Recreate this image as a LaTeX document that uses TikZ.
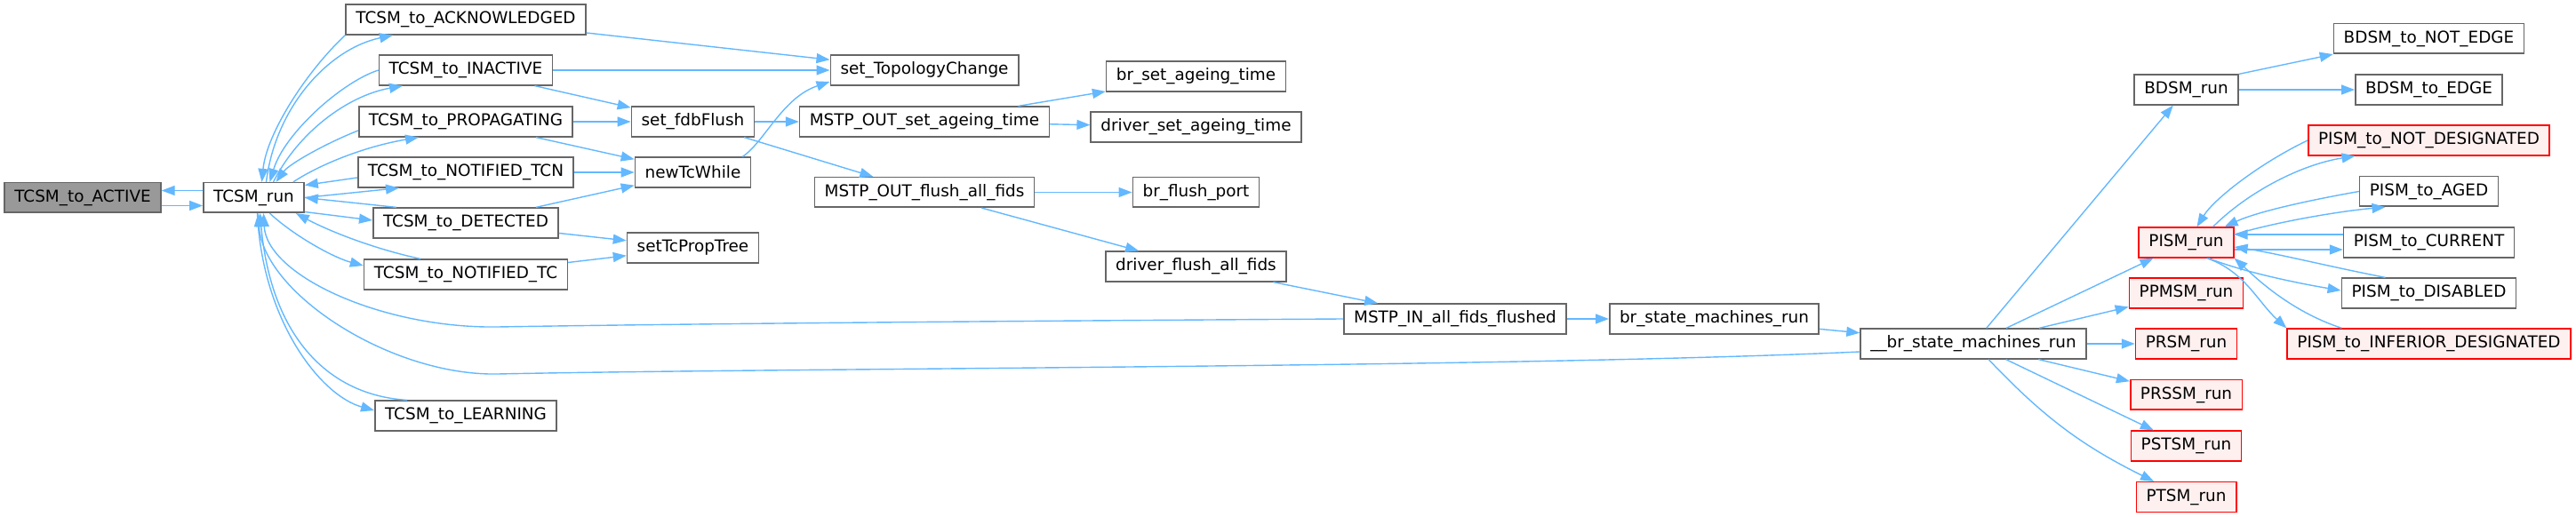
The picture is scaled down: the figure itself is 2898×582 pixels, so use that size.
\documentclass[tikz,border=0pt]{standalone}
\usepackage{fontspec}
\setmainfont{DejaVu Sans}
\usetikzlibrary{arrows.meta, calc}
\definecolor{edgeblue}{HTML}{63B8FF}
\definecolor{boxgray}{HTML}{666666}
\definecolor{rootfill}{HTML}{999999}
\definecolor{cutfill}{HTML}{FFF0F0}

\begin{document}
\begin{tikzpicture}[x=0.5pt, y=-0.5pt,
    fn/.style={draw=boxgray, line width=0.8pt, fill=white, rectangle, inner xsep=5.6pt, inner ysep=0pt,
      minimum height=16.8pt, font=\fontsize{9.2}{11}\selectfont},
    rootfn/.style={fn, fill=rootfill},
    cutfn/.style={fn, draw=red, fill=cutfill},
    call/.style={draw=edgeblue, line width=0.7pt, -{Triangle[length=7.5pt, width=5.5pt]}}]
  \useasboundingbox (0,0) rectangle (2898,582);

  \node[rootfn] (act) at (93,222.5) {TCSM\_to\_ACTIVE};
  \node[fn] (run) at (285.5,222.5) {TCSM\_run};
  \node[fn] (ack) at (524,22) {TCSM\_to\_ACKNOWLEDGED};
  \node[fn] (inact) at (524,79) {TCSM\_to\_INACTIVE};
  \node[fn] (prop) at (524,137) {TCSM\_to\_PROPAGATING};
  \node[fn] (tcn) at (524,194) {TCSM\_to\_NOTIFIED\_TCN};
  \node[fn] (det) at (524,251) {TCSM\_to\_DETECTED};
  \node[fn] (ntc) at (524,309) {TCSM\_to\_NOTIFIED\_TC};
  \node[fn] (learn) at (524,468) {TCSM\_to\_LEARNING};
  \node[fn] (topo) at (1040,79) {set\_TopologyChange};
  \node[fn] (fdb) at (779.5,137) {set\_fdbFlush};
  \node[fn] (newtc) at (779.5,194) {newTcWhile};
  \node[fn] (proptree) at (779.5,279) {setTcPropTree};
  \node[fn] (outage) at (1040,137) {MSTP\_OUT\_set\_ageing\_time};
  \node[fn] (outflush) at (1040,216.5) {MSTP\_OUT\_flush\_all\_fids};
  \node[fn] (brage) at (1345.5,86) {br\_set\_ageing\_time};
  \node[fn] (drvage) at (1345.5,143) {driver\_set\_ageing\_time};
  \node[fn] (brflush) at (1345.5,216.5) {br\_flush\_port};
  \node[fn] (drvflush) at (1345.5,300) {driver\_flush\_all\_fids};
  \node[fn] (allfl) at (1637,359) {MSTP\_IN\_all\_fids\_flushed};
  \node[fn] (brsm) at (1928.5,359) {br\_state\_machines\_run};
  \node[fn] (ubrsm) at (2220,387) {\_\_br\_state\_machines\_run};
  \node[fn] (bdsm) at (2459.5,101) {BDSM\_run};
  \node[cutfn] (pism) at (2459.5,273) {PISM\_run};
  \node[cutfn] (ppmsm) at (2459.5,330) {PPMSM\_run};
  \node[cutfn] (prsm) at (2459.5,387) {PRSM\_run};
  \node[cutfn] (prssm) at (2459.5,444.5) {PRSSM\_run};
  \node[cutfn] (pstsm) at (2459.5,502) {PSTSM\_run};
  \node[cutfn] (ptsm) at (2459.5,559.5) {PTSM\_run};
  \node[fn] (bdne) at (2732.5,43.5) {BDSM\_to\_NOT\_EDGE};
  \node[fn] (bde) at (2732.5,101) {BDSM\_to\_EDGE};
  \node[cutfn] (pnd) at (2732.5,158) {PISM\_to\_NOT\_DESIGNATED};
  \node[fn] (paged) at (2732.5,215.5) {PISM\_to\_AGED};
  \node[fn] (pcur) at (2732.5,273) {PISM\_to\_CURRENT};
  \node[fn] (pdis) at (2732.5,330) {PISM\_to\_DISABLED};
  \node[cutfn] (pinf) at (2732.5,387) {PISM\_to\_INFERIOR\_DESIGNATED};

  \draw[call] ($(run.west)+(0,-8)$) -- ($(act.east)+(0,-8)$);
  \draw[call] ($(act.east)+(0,9)$) -- ($(run.west)+(0,9)$);
  \draw[call] (ack.south west) .. controls (345,80) and (300,150) .. ($(run.north)+(9,0)$);
  \draw[call] ($(run.north)+(14,0)$) .. controls (310,120) and (370,55) .. ($(ack.south)+(-82,0)$);
  \draw[call] (inact.west) .. controls (385,92) and (320,150) .. ($(run.north)+(18,0)$);
  \draw[call] ($(run.north)+(22,0)$) .. controls (335,150) and (390,108) .. ($(inact.south)+(-71,0)$);
  \draw[call] ($(prop.west)+(0,10)$) .. controls (365,162) and (325,185) .. ($(run.north)+(25,0)$);
  \draw[call] ($(run.north east)+(-13,0)$) .. controls (360,185) and (410,165) .. ($(prop.south)+(-53,0)$);
  \draw[call] ($(tcn.west)+(0,6)$) -- ($(run.east)+(0,-14)$);
  \draw[call] (run.east) -- ($(tcn.south)+(-75,0)$);
  \draw[call] ($(det.north)+(-78,0)$) -- (run.east);
  \draw[call] ($(run.east)+(0,16)$) -- ($(det.west)+(0,-3)$);
  \draw[call] ($(ntc.north)+(-51,0)$) .. controls (420,280) and (370,260) .. ($(run.south east)+(-10,0)$);
  \draw[call] ($(run.south)+(18,0)$) .. controls (330,265) and (375,290) .. ($(ntc.west)+(0,-10)$);
  \draw[call] ($(learn.north)+(-66,0)$) .. controls (370,445) and (305,380) .. ($(run.south)+(7,0)$);
  \draw[call] ($(run.south)+(4,0)$) .. controls (295,360) and (360,445) .. ($(learn.west)+(0,-6)$);
  \draw[call] (allfl.west) .. controls (1200,361) and (800,364) .. (560,368)
    .. controls (430,370) and (300,310) .. ($(run.south)+(11,0)$);
  \draw[call] ($(ubrsm.west)+(0,9)$) .. controls (1700,414) and (900,414) .. (560,421)
    .. controls (440,423.5) and (296,330) .. ($(run.south)+(5,0)$);

  \draw[call] (ack) -- (topo);
  \draw[call] (inact) -- (topo);
  \draw[call] (inact) -- (fdb);
  \draw[call] (prop) -- (fdb);
  \draw[call] (prop) -- (newtc);
  \draw[call] (tcn) -- (newtc);
  \draw[call] (det) -- (newtc);
  \draw[call] (det) -- (proptree);
  \draw[call] (ntc) -- (proptree);
  \draw[call] ($(newtc.north east)+(-10,0)$) .. controls (860,160) and (880,110) .. ($(topo.west)+(0,13)$);
  \draw[call] (fdb) -- (outage);
  \draw[call] (fdb) -- (outflush);
  \draw[call] (outage) -- (brage);
  \draw[call] (outage) -- (drvage);
  \draw[call] (outflush) -- (brflush);
  \draw[call] (outflush) -- (drvflush);
  \draw[call] (drvflush) -- (allfl);
  \draw[call] (allfl) -- (brsm);
  \draw[call] (brsm) -- (ubrsm);

  \draw[call] (ubrsm) -- (bdsm);
  \draw[call] (ubrsm) -- (pism);
  \draw[call] (ubrsm) -- (ppmsm);
  \draw[call] (ubrsm) -- (prsm);
  \draw[call] (ubrsm) -- (prssm);
  \draw[call] (ubrsm) -- (pstsm);
  \draw[call] (ubrsm) to[bend right=10] (ptsm);
  \draw[call] (bdsm.north east) -- (bdne.south west);
  \draw[call] (bdsm) -- (bde);

  \draw[call] (pnd.west) .. controls (2540,185) and (2490,225) .. ($(pism.north)+(12,0)$);
  \draw[call] ($(pism.north)+(30,0)$) .. controls (2530,215) and (2590,185) .. ($(pnd.south)+(-83,0)$);
  \draw[call] (paged.west) .. controls (2600,225) and (2540,238) .. ($(pism.north east)+(-11,0)$);
  \draw[call] ($(pism.east)+(0,-9)$) .. controls (2560,250) and (2630,238) .. ($(paged.south)+(-49,0)$);
  \draw[call] ($(pcur.west)+(0,-9)$) -- ($(pism.east)+(0,-9)$);
  \draw[call] ($(pism.east)+(0,8)$) -- ($(pcur.west)+(0,8)$);
  \draw[call] ($(pdis.north)+(-49,0)$) .. controls (2620,300) and (2560,285) .. ($(pism.east)+(0,5)$);
  \draw[call] ($(pism.south)+(25,0)$) .. controls (2520,305) and (2580,318) .. ($(pdis.west)+(0,-3)$);
  \draw[call] ($(pinf.north)+(-98,0)$) .. controls (2575,350) and (2535,310) .. (pism.south east);
  \draw[call] ($(pism.south)+(23,0)$) .. controls (2525,305) and (2540,340) .. (pinf.north west);
\end{tikzpicture}
\end{document}
